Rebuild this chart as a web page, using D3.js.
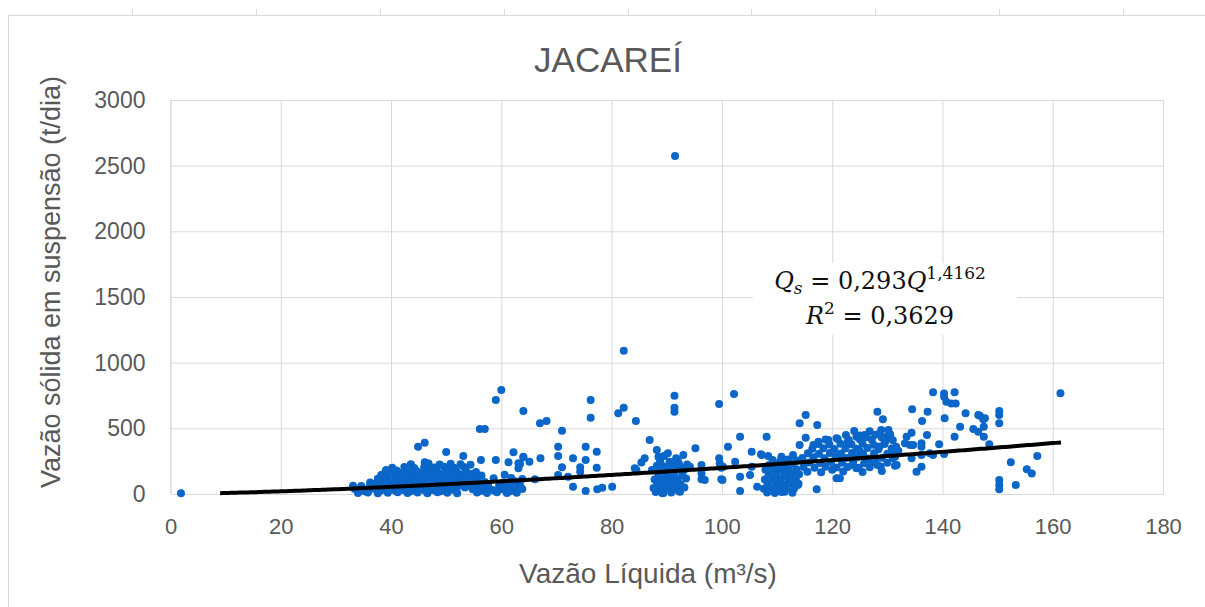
<!DOCTYPE html>
<html>
<head>
<meta charset="utf-8">
<script src="https://cdn.jsdelivr.net/npm/d3@7"></script>
<style>
  body { margin: 0; background: #fff; }
  text { font-family: "Liberation Sans", Arial, sans-serif; fill: #595959; }
</style>
</head>
<body>
<div id="chart"></div>
<script>

const titulo = 'JACAREÍ'
const tituloX = 'Vazão Líquida (m³/s)'
const tituloY = 'Vazão sólida em suspensão (t/dia)'

const xTicks = [0, 20, 40, 60, 80, 100, 120, 140, 160, 180]
const yTicks = [0, 500, 1000, 1500, 2000, 2500, 3000]

// ajuste potencia Qs = a * Q^b
const coefA = 0.293
const coefB = 1.4162
const trendInicio = 9
const trendFim = 161.5

// pontos isolados [Q (m3/s), Qs (t/dia)]
const pontosDispersos = [
  [1.9, 5], [91.5, 2573], [82.2, 1090],
  [60.0, 792], [59.0, 716], [56.1, 495], [57.0, 495], [44.9, 360], [46.1, 390],
  [50.0, 320], [53.1, 289], [56.3, 259], [59.0, 259], [62.2, 317], [61.3, 241],
  [63.1, 234], [64.0, 632], [67.0, 538], [68.2, 556], [76.2, 716], [76.2, 581],
  [81.2, 614], [82.2, 657], [84.4, 556], [71.0, 482], [64.0, 279], [63.4, 228],
  [65.1, 246], [67.1, 272], [70.3, 360], [70.3, 289], [71.0, 203], [73.0, 272],
  [74.3, 203], [74.3, 170], [75.3, 360], [75.3, 259], [77.3, 322], [77.3, 200],
  [70.3, 145], [72.1, 132], [73.0, 56], [75.3, 23], [77.4, 36], [78.3, 48],
  [80.1, 56], [66.1, 112], [84.2, 196], [84.5, 183], [86.0, 272], [86.9, 411],
  [88.2, 335], [88.5, 284], [87.3, 183], [39.1, 183], [41.1, 157], [42.9, 200],
  [33.1, 63], [36.8, 69], [46.1, 241], [64.0, 284], [63.1, 196], [85.4, 240]
]

// nucleo denso Q 33-64
const nucleo33a64 = [
  [34.0, 8], [35.8, 12], [37.6, 6], [39.4, 10], [41.2, 14], [43.0, 7], [44.8, 11], [46.6, 5],
  [48.4, 13], [50.2, 9], [52.0, 6], [55.6, 12], [57.4, 8], [59.2, 14], [61.0, 7], [62.8, 10],
  [33.4, 38], [35.0, 32], [36.8, 40], [38.6, 34], [40.4, 37], [42.2, 31], [44.0, 39], [45.8, 35],
  [47.6, 30], [49.4, 38], [51.2, 33], [54.8, 36], [56.6, 40], [58.4, 31], [60.2, 37], [62.0, 34],
  [63.8, 39],
  [34.6, 60], [37.8, 66], [39.6, 58], [41.4, 64], [43.2, 61], [45.0, 67], [46.8, 59], [48.6, 63],
  [50.4, 68], [52.2, 60], [54.0, 65], [55.8, 58], [57.6, 62], [59.6, 66], [61.6, 60], [63.4, 64],
  [36.2, 88], [38.6, 94], [40.4, 86], [42.2, 92], [44.0, 89], [45.8, 95], [47.6, 87], [49.4, 93],
  [51.2, 90], [53.0, 96], [54.8, 86], [57.0, 92], [60.4, 88], [62.6, 95],
  [37.6, 116], [39.4, 122], [41.2, 114], [43.0, 120], [44.8, 117], [46.6, 124], [48.4, 115],
  [50.2, 121], [52.0, 118], [53.8, 125], [55.6, 113], [58.6, 119], [61.8, 122], [63.8, 115],
  [38.2, 144], [40.2, 150], [42.0, 142], [43.8, 148], [45.6, 145], [47.4, 152], [49.2, 143],
  [51.0, 149], [52.8, 146], [54.6, 153], [56.4, 141], [60.6, 147],
  [39.0, 172], [41.0, 178], [42.8, 170], [44.6, 176], [46.4, 173], [48.2, 180], [50.0, 171],
  [51.8, 177], [53.6, 174], [55.4, 168],
  [40.2, 200], [42.4, 206], [44.2, 198], [46.0, 204], [47.8, 201], [49.6, 208], [51.4, 199], [53.2, 205],
  [43.6, 226], [46.8, 232], [48.8, 224], [50.8, 230], [52.6, 227], [54.4, 222],
  [35.2, 20], [38.0, 22], [40.8, 25], [43.6, 20], [46.2, 24], [49.0, 21], [51.8, 23], [56.2, 22],
  [58.8, 24], [61.6, 21], [36.0, 50], [39.0, 48], [42.0, 52], [45.2, 49], [48.0, 51], [50.8, 47],
  [53.4, 50], [57.0, 48], [60.8, 52], [63.0, 49], [37.0, 78], [40.0, 76], [43.0, 80], [46.2, 77],
  [49.2, 79], [52.4, 76], [55.6, 80], [61.2, 76], [39.0, 106], [42.0, 104], [45.4, 107], [48.8, 103],
  [51.6, 106], [54.6, 104], [40.8, 134], [44.2, 132], [47.6, 135], [50.8, 131], [53.6, 134],
  [41.6, 160], [45.0, 162], [48.6, 159], [52.0, 161], [43.4, 188], [47.0, 190], [50.6, 187]
]

// Q 87-107
const pontos87a107 = [
  [88.0, 15], [89.4, 8], [90.8, 12], [92.2, 20],
  [87.6, 45], [89.0, 40], [90.4, 48], [91.8, 42], [93.2, 50],
  [88.3, 78], [89.7, 72], [91.1, 80], [92.5, 75],
  [87.8, 110], [89.2, 105], [90.6, 115], [92.0, 108], [93.5, 118],
  [88.5, 145], [89.9, 140], [91.3, 150], [92.8, 142],
  [87.5, 178], [88.9, 182], [90.3, 175], [91.7, 185], [93.1, 180],
  [88.2, 215], [89.6, 210], [91.0, 220], [92.4, 212], [93.7, 225],
  [88.8, 250], [90.5, 245], [92.0, 255], [89.5, 290], [90.2, 310],
  [88.6, 28], [90.1, 60], [91.4, 95], [89.0, 125], [90.8, 160], [89.4, 195], [92.2, 232],
  [91.4, 749], [91.4, 657], [91.4, 627], [99.5, 685], [102.2, 761], [95.2, 348], [93.0, 297],
  [91.7, 272], [99.5, 272], [102.4, 246], [105.4, 322], [107.2, 297], [94.2, 208], [96.3, 221],
  [96.3, 157], [96.3, 112], [99.9, 200], [99.9, 112], [92.4, 18], [89.7, 56], [89.2, 5],
  [103.3, 132], [103.3, 23], [105.1, 145], [106.4, 56], [105.4, 208], [101.1, 360], [103.3, 436],
  [108.1, 436], [99.6, 234], [100.2, 208], [96.9, 107], [100.1, 107], [107.1, 302]
]

// nucleo Q 107-114
const nucleo107a114 = [
  [108.2, 12], [109.6, 8], [110.8, 15], [112.8, 10], [111.4, 18],
  [107.6, 40], [109.0, 45], [110.3, 38], [111.7, 48], [113.1, 42],
  [108.3, 75], [109.7, 80], [111.1, 72], [112.5, 82], [113.9, 78],
  [107.8, 110], [109.2, 115], [110.6, 108], [112.0, 118], [113.4, 112],
  [108.5, 148], [109.9, 152], [111.3, 145], [112.7, 155], [114.0, 150],
  [107.9, 185], [109.3, 180], [110.7, 190], [112.1, 182], [113.5, 188],
  [108.6, 220], [110.0, 225], [111.4, 218], [112.8, 228],
  [109.2, 258], [110.6, 252], [112.0, 262], [113.6, 255],
  [108.4, 290], [110.8, 284], [112.9, 297], [111.7, 259],
  [108.9, 28], [110.4, 60], [112.2, 95], [109.8, 130], [111.6, 165], [110.0, 200], [112.4, 240]
]

// faixa Q 114-132
const faixa114a132 = [
  [115.5, 170], [118.0, 165], [122.0, 172], [125.5, 168], [129.0, 175],
  [114.8, 205], [116.8, 200], [118.8, 208], [120.8, 202], [122.8, 206], [124.8, 199], [126.8, 204], [128.8, 209],
  [115.8, 240], [117.8, 236], [119.8, 243], [121.8, 238], [123.8, 242], [125.8, 235], [127.8, 241], [130.0, 237],
  [114.6, 275], [116.6, 279], [118.6, 272], [120.6, 277], [122.6, 274], [124.6, 280], [126.6, 271], [129.0, 276], [131.0, 273],
  [115.6, 310], [117.6, 306], [119.6, 313], [121.6, 308], [123.6, 312], [125.6, 305], [127.6, 311], [130.0, 307],
  [116.4, 345], [118.4, 349], [120.4, 342], [122.4, 347], [124.4, 344], [126.4, 350], [128.4, 341], [130.8, 346],
  [117.5, 380], [119.5, 376], [121.5, 383], [123.5, 378], [125.5, 382], [127.5, 375], [129.5, 381],
  [118.8, 415], [121.0, 419], [123.0, 412], [125.0, 417], [127.2, 414], [129.4, 420],
  [122.5, 450], [125.0, 446], [127.8, 452], [130.5, 448], [124.0, 480], [126.8, 478],
  [115.2, 601], [114.1, 538], [117.3, 525], [128.2, 627], [129.2, 569], [115.2, 429], [114.1, 373],
  [117.2, 36], [113.8, 69], [116.6, 373], [117.5, 398], [119.3, 411], [120.8, 424], [124.4, 436],
  [125.9, 449], [128.9, 487], [130.2, 487], [129.9, 436], [131.4, 284], [131.7, 221],
  [120.8, 120], [121.4, 120], [124.4, 196], [128.2, 221],
  [120.0, 185], [123.8, 220], [127.0, 258], [121.0, 292], [125.0, 328], [128.6, 362], [122.8, 396], [126.2, 432]
]

// Q 131-162
const pontos131a162 = [
  [161.4, 768], [138.3, 774], [140.3, 766], [140.3, 741], [142.2, 774], [140.7, 703], [141.6, 690],
  [142.4, 690], [134.5, 645], [137.3, 627], [144.2, 614], [146.5, 601], [147.4, 569], [150.3, 632],
  [150.3, 601], [150.3, 538], [140.4, 576], [136.3, 556], [143.2, 512], [145.6, 495], [146.5, 474],
  [147.5, 512], [147.5, 436], [146.8, 596], [147.7, 576], [142.2, 436], [137.2, 449], [134.4, 467],
  [133.5, 436], [133.2, 386], [134.1, 373], [134.7, 373], [136.2, 386], [136.2, 360], [139.4, 378],
  [148.5, 378], [131.2, 297], [131.4, 216], [134.4, 272], [136.2, 297], [137.7, 310], [138.3, 297],
  [140.3, 305], [135.3, 170], [136.2, 208], [152.4, 241], [157.2, 289], [155.3, 188], [156.2, 157],
  [150.3, 107], [150.3, 69], [150.3, 36], [153.3, 69],
  [128.6, 460], [129.0, 430], [129.6, 400], [130.5, 455], [131.0, 410], [131.6, 360], [132.0, 330]
]

const pontos = [].concat(pontosDispersos, nucleo33a64, pontos87a107, nucleo107a114, faixa114a132, pontos131a162)

const width = 1205
const height = 607

const x = d3.scaleLinear().domain([0, 180]).range([170.5, 1163])
const y = d3.scaleLinear().domain([0, 3000]).range([494, 100])

const svg = d3.select('#chart').append('svg')
    .attr('width', width)
    .attr('height', height)

// moldura do grafico
svg.append('rect')
    .attr('x', 8.5).attr('y', 15.5)
    .attr('width', width).attr('height', height)
    .attr('fill', '#fff').attr('stroke', '#d9d9d9')

svg.selectAll('.col')
    .data([132, 256, 380, 504, 628, 751, 875, 999, 1123])
    .enter().append('line')
    .attr('x1', d => d + 0.5).attr('x2', d => d + 0.5)
    .attr('y1', 9).attr('y2', 15)
    .attr('stroke', '#d9d9d9')

// grade e eixos
svg.append('g')
    .attr('class', 'eixo-x')
    .attr('transform', 'translate(0,' + y(0) + ')')
    .call(d3.axisBottom(x).tickValues(xTicks).tickFormat(d3.format('d'))
        .tickSize(-(y(0) - y(3000))).tickSizeOuter(0).tickPadding(24))

svg.append('g')
    .attr('class', 'eixo-y')
    .attr('transform', 'translate(' + x(0) + ',0)')
    .call(d3.axisLeft(y).tickValues(yTicks).tickFormat(d3.format('d'))
        .tickSize(-(x(180) - x(0))).tickSizeOuter(0).tickPadding(25))

svg.selectAll('.domain').attr('stroke', '#d9d9d9')
svg.selectAll('.tick line').attr('stroke', '#d9d9d9')
svg.selectAll('.tick text')
    .attr('fill', '#595959')
    .style('font-family', '"Liberation Sans", Arial, sans-serif')
svg.selectAll('.eixo-x .tick text').attr('font-size', 22)
svg.selectAll('.eixo-y .tick text').attr('font-size', 23)

// pontos
svg.append('g').selectAll('circle')
    .data(pontos)
    .enter().append('circle')
    .attr('cx', d => x(d[0]))
    .attr('cy', d => y(d[1]))
    .attr('r', 4)
    .attr('fill', '#0a66c8')

// linha de tendencia
const trend = d3.range(trendInicio, trendFim, 0.5).concat([trendFim])
    .map(q => [q, coefA * Math.pow(q, coefB)])

svg.append('path')
    .datum(trend)
    .attr('fill', 'none')
    .attr('stroke', '#000')
    .attr('stroke-width', 4)
    .attr('d', d3.line().x(d => x(d[0])).y(d => y(d[1])))

// rotulo da equacao
svg.append('rect')
    .attr('x', 753).attr('y', 263)
    .attr('width', 264).attr('height', 72)
    .attr('fill', '#fff')

const eq = svg.append('text')
    .attr('x', 880).attr('y', 289)
    .attr('text-anchor', 'middle')
    .style('font-family', '"DejaVu Serif", serif')
    .attr('font-size', 24)
    .style('fill', '#111')
eq.append('tspan').attr('font-style', 'italic').text('Q')
eq.append('tspan').attr('font-style', 'italic').attr('font-size', 17).attr('dy', 5).text('s')
eq.append('tspan').attr('dy', -5).text(' = 0,293')
eq.append('tspan').attr('font-style', 'italic').text('Q')
eq.append('tspan').attr('font-size', 17).attr('dy', -10).text('1,4162')

const r2 = svg.append('text')
    .attr('x', 880).attr('y', 324)
    .attr('text-anchor', 'middle')
    .style('font-family', '"DejaVu Serif", serif')
    .attr('font-size', 24)
    .style('fill', '#111')
r2.append('tspan').attr('font-style', 'italic').text('R')
r2.append('tspan').attr('font-size', 17).attr('dy', -10).text('2')
r2.append('tspan').attr('dy', 10).text(' = 0,3629')

// titulos
svg.append('text')
    .attr('x', 608).attr('y', 72)
    .attr('text-anchor', 'middle')
    .attr('font-size', 35)
    .text(titulo)

svg.append('text')
    .attr('x', 648).attr('y', 583)
    .attr('text-anchor', 'middle')
    .attr('font-size', 28)
    .text(tituloX)

svg.append('text')
    .attr('transform', 'translate(60,282) rotate(-90)')
    .attr('text-anchor', 'middle')
    .attr('font-size', 27)
    .text(tituloY)

</script>
</body>
</html>
